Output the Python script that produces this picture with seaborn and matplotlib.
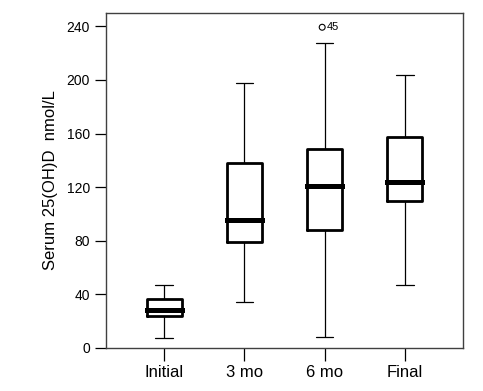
import numpy as np
import pandas as pd
import matplotlib
matplotlib.use("Agg")
import matplotlib.pyplot as plt
import seaborn as sns

# five-number summaries
groups = ["Initial", "3 mo", "6 mo", "Final"]
whisker_low = [7.2, 34.6, 8.0, 47.3]
q1 = [23.9, 79.2, 87.9, 109.3]
median = [28.1, 95.8, 121.2, 124.2]
q3 = [36.8, 138.2, 148.1, 157.3]
whisker_high = [47.0, 197.7, 227.5, 203.9]

# outlier
outlier_group = "6 mo"
outlier_value = 239.3
outlier_label = "45"

rows = []
for i, g in enumerate(groups):
    for v in (whisker_low[i], q1[i], median[i], q3[i], whisker_high[i]):
        rows.append({"time": g, "value": v})
df = pd.DataFrame(rows)

sns.set_style("ticks")
plt.rcParams["font.family"] = ["Liberation Sans", "DejaVu Sans"]
plt.rcParams["text.color"] = "black"
plt.rcParams["axes.labelcolor"] = "black"
plt.rcParams["xtick.color"] = "black"
plt.rcParams["ytick.color"] = "black"

fig = plt.figure(figsize=(4.83, 3.91), dpi=100)
ax = fig.add_axes([0.2195, 0.110, 0.739, 0.857])

sns.boxplot(data=df, x="time", y="value", order=groups, ax=ax,
            fill=False, color="black", width=0.44, whis=(0, 100),
            showfliers=False,
            boxprops=dict(linewidth=2.0, color="black"),
            medianprops=dict(linewidth=3.6, color="black", solid_capstyle="projecting"),
            whiskerprops=dict(linewidth=0.9, color="black"),
            capprops=dict(linewidth=0.9, color="black"))

pos = groups.index(outlier_group)
sns.scatterplot(x=[pos - 0.03], y=[outlier_value], ax=ax, marker="o",
                s=18, facecolor="none", edgecolor="black", linewidth=0.8,
                legend=False, zorder=5)
ax.annotate(outlier_label, (pos - 0.03, outlier_value), xytext=(3, 0),
            textcoords="offset points", ha="left", va="center", fontsize=8)

ax.set_xlim(-0.725, 3.725)
ax.set_ylim(0, 250)
ax.set_yticks([0, 40, 80, 120, 160, 200, 240])
ax.set_xlabel("")
ax.set_ylabel("Serum 25(OH)D  nmol/L", fontsize=12, labelpad=6)
ax.tick_params(axis="y", labelsize=10, length=8, width=0.9, direction="out")
ax.tick_params(axis="x", labelsize=12, length=9, width=0.9, direction="out")

for s in ax.spines.values():
    s.set_visible(True)
    s.set_color("#404040")
    s.set_linewidth(1.0)

fig.savefig("out.png", dpi=100)
